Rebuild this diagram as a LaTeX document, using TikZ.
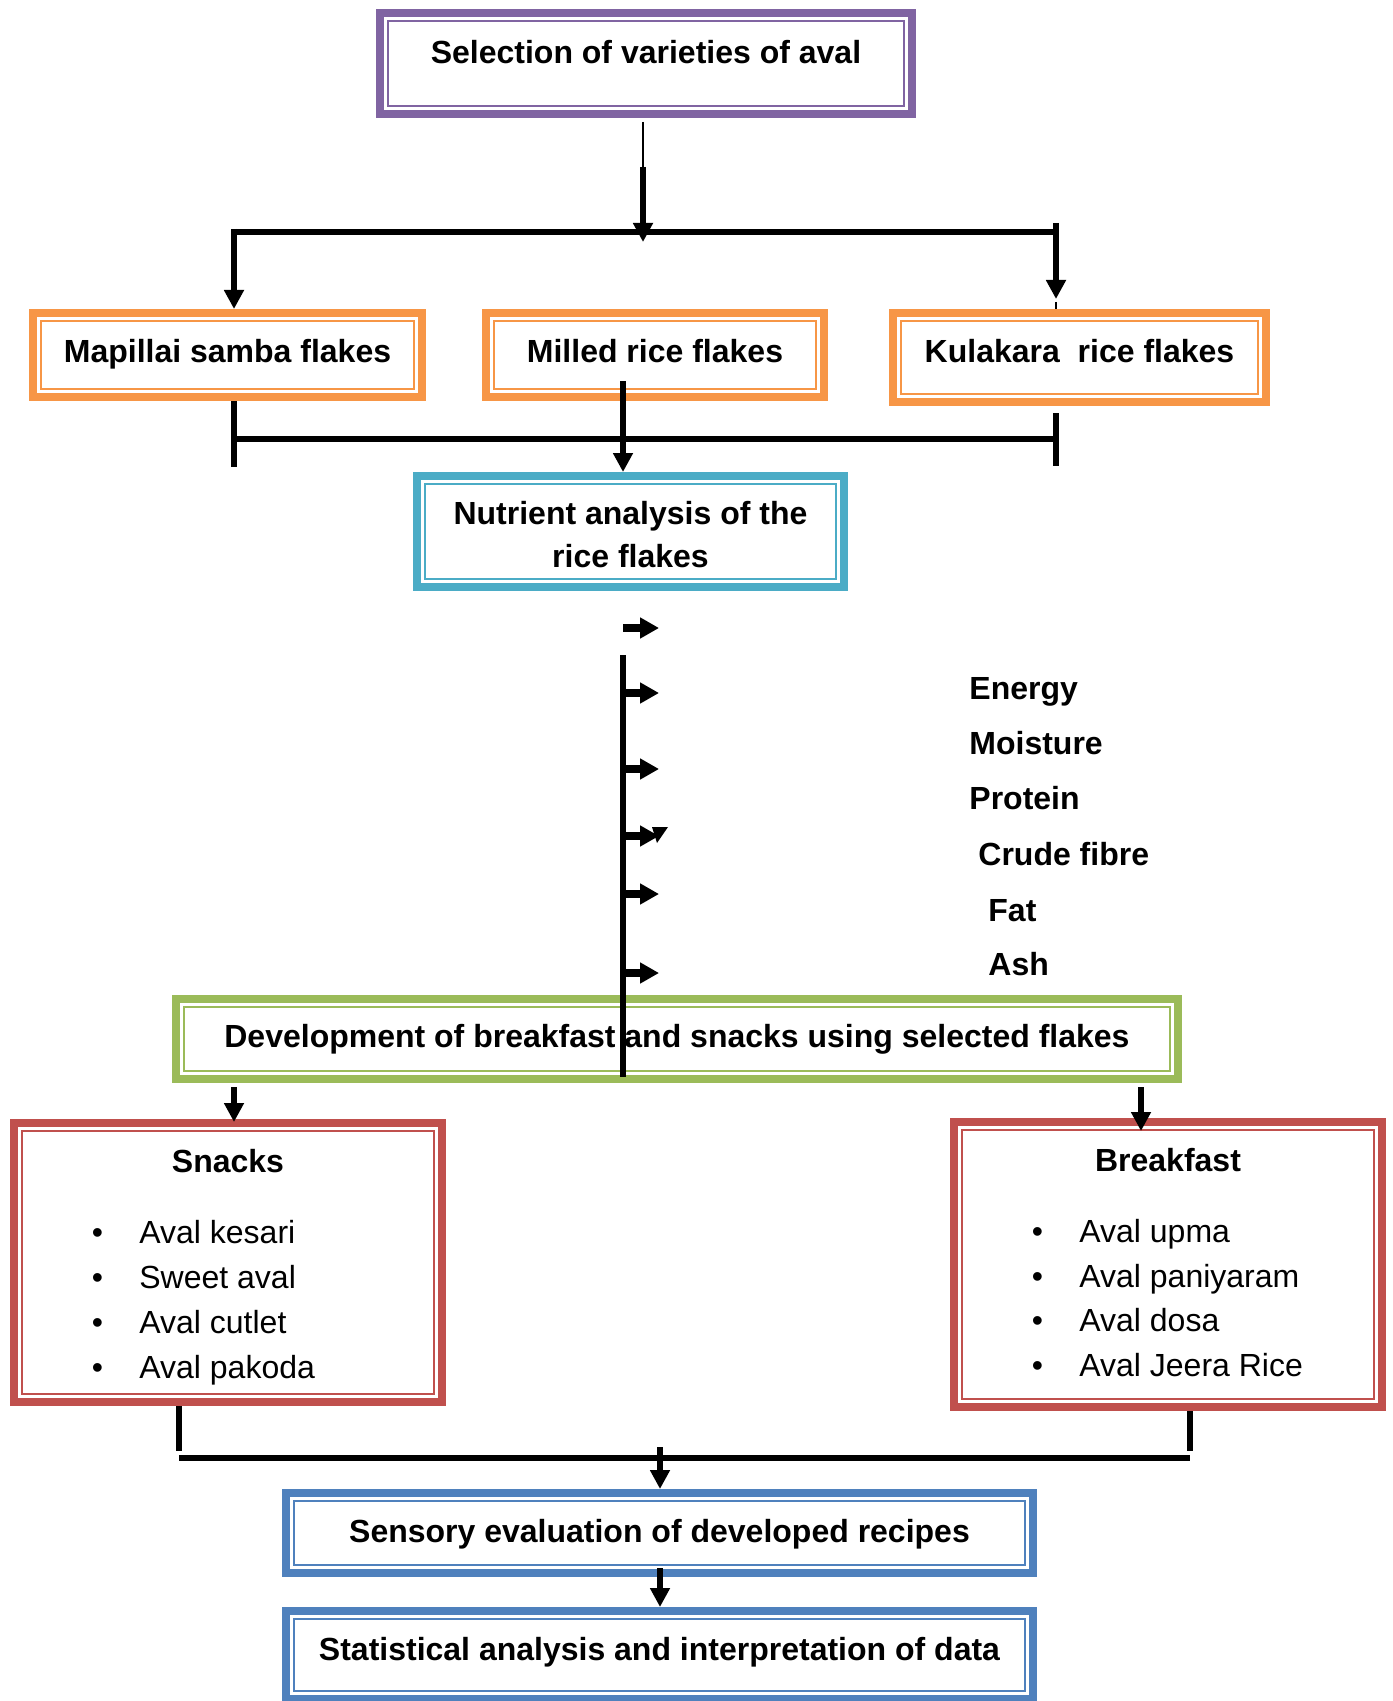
\documentclass[tikz,border=0pt]{standalone}
\usepackage{fontspec}
\setmainfont{Liberation Sans}
\usetikzlibrary{arrows.meta}
\definecolor{cpur}{HTML}{8064A2}
\definecolor{corg}{HTML}{F79646}
\definecolor{cteal}{HTML}{4BACC6}
\definecolor{cgrn}{HTML}{9BBB59}
\definecolor{cred}{HTML}{C0504D}
\definecolor{cblu}{HTML}{4F81BD}
\begin{document}
\begin{tikzpicture}[x=0.5pt,y=-0.5pt,
  fbox/.style={draw=#1, line width=4pt, fill=white, inner sep=0pt,
    font=\bfseries\fontsize{16pt}{19pt}\selectfont},
  tb/.style={text height=12pt, text depth=#1},
  lab/.style={font=\bfseries\fontsize{16pt}{19pt}\selectfont, inner sep=0pt, anchor=base west},
  itemtxt/.style={font=\fontsize{16pt}{19pt}\selectfont, inner sep=0pt, anchor=base west},
  bul/.style={font=\fontsize{16pt}{19pt}\selectfont, inner sep=0pt, anchor=base},
  con/.style={line width=3pt},
  arr/.style={line width=3pt, -{Triangle[length=9.5pt,width=9.5pt]}},
  narr/.style={line width=4pt, -{Triangle[length=9.5pt,width=10pt]}},
  thinln/.style={line width=0.8pt},
]
\useasboundingbox (0,0) rectangle (1392,1701);

% boxes
\node[fbox=cpur, tb=11.5pt, minimum width=266pt, minimum height=50.5pt] (sel) at (646,63.5) {Selection of varieties of aval};
\node[fbox=corg, tb=4pt, minimum width=194.5pt, minimum height=42pt] (map) at (227.5,355) {Mapillai samba flakes};
\node[fbox=corg, tb=4pt, minimum width=169pt, minimum height=42pt] (mil) at (655,355) {Milled rice flakes};
\node[fbox=corg, tb=6.5pt, minimum width=186.5pt, minimum height=44.5pt] (kul) at (1079.5,357.5) {Kulakara\ \ rice flakes};
\node[fbox=cteal, align=center, font=\bfseries\fontsize{16pt}{21.5pt}\selectfont, minimum width=213.5pt, minimum height=55.5pt] (nut) at (630.5,531.5) {\rule{0pt}{14.7pt}Nutrient analysis of the\\rice flakes};
\node[fbox=cgrn, tb=4pt, minimum width=501pt, minimum height=40pt] (dev) at (677,1039) {Development of breakfast and snacks using selected flakes};
\node[fbox=cred, minimum width=214pt, minimum height=139.5pt] (snk) at (228,1262.5) {};
\node[fbox=cred, minimum width=214pt, minimum height=142.5pt] (brk) at (1168,1264.5) {};
\node[fbox=cblu, tb=3pt, minimum width=373.5pt, minimum height=40pt] (sen) at (659.5,1533) {Sensory evaluation of developed recipes};
\node[fbox=cblu, tb=7pt, minimum width=373.5pt, minimum height=44pt] (sta) at (659.5,1655) {Statistical analysis and interpretation of data};

% inner thin borders
\foreach \n/\c in {sel/cpur,map/corg,mil/corg,kul/corg,nut/cteal,dev/cgrn,snk/cred,brk/cred,sen/cblu,sta/cblu}
  \draw[\c, line width=1.2pt] ([shift={(5.9pt,5.9pt)}]\n.south west) rectangle ([shift={(-5.9pt,-5.9pt)}]\n.north east);

% snacks list
\node[lab, anchor=base] (snkt) at (228,1172) {Snacks};
\node[bul] (snkb1) at (97.5,1243) {•};
\node[bul] (snkb2) at (97.5,1288) {•};
\node[bul] (snkb3) at (97.5,1333) {•};
\node[bul] (snkb4) at (97.5,1378) {•};
\node[itemtxt] (snk1) at (139,1243) {Aval kesari};
\node[itemtxt] (snk2) at (139,1288) {Sweet aval};
\node[itemtxt] (snk3) at (139,1333) {Aval cutlet};
\node[itemtxt] (snk4) at (139,1378) {Aval pakoda};

% breakfast list
\node[lab, anchor=base] (brkt) at (1168,1171) {Breakfast};
\node[bul] (brkb1) at (1037.5,1242) {•};
\node[bul] (brkb2) at (1037.5,1287) {•};
\node[bul] (brkb3) at (1037.5,1331) {•};
\node[bul] (brkb4) at (1037.5,1376) {•};
\node[itemtxt] (brk1) at (1079,1242) {Aval upma};
\node[itemtxt] (brk2) at (1079,1287) {Aval paniyaram};
\node[itemtxt] (brk3) at (1079,1331) {Aval dosa};
\node[itemtxt] (brk4) at (1079,1376) {Aval Jeera Rice};

% nutrient labels
\node[lab] (en) at (969,699) {Energy};
\node[lab] (mo) at (969,754) {Moisture};
\node[lab] (pr) at (969,809) {Protein};
\node[lab] (cf) at (978,865) {Crude fibre};
\node[lab] (fa) at (988,921) {Fat};
\node[lab] (as) at (988,975) {Ash};

% top connectors
\coordinate (s0) at (643,122);
\coordinate (s1) at (643,167);
\coordinate (s2) at (643,242);
\coordinate (jl) at (234,232);
\coordinate (jr) at (1056,232);
\draw[thinln] (s0) -- (s1);
\draw[con] (jl) -- (jr);
\draw[arr] (s1) -- (s2);
\draw[arr] (234,229) -- (jl |- map.north);
\draw[arr] (1056,223) -- (1056,299);
\coordinate (jrt) at (1056,302);
\draw[line width=1.2pt] (jrt) -- (jrt |- kul.north);

% second level connectors
\coordinate (kl) at (234,439);
\coordinate (kr) at (1056,439);
\draw[con] (kl |- map.south) -- (234,467);
\draw[con] (kl) -- (kr);
\draw[con] (1056,413) -- (1056,466);
\coordinate (mtop) at (623,381);
\draw[arr] (mtop) -- (mtop |- nut.north);

% nutrient branch
\coordinate (n0) at (623,628);
\coordinate (n1) at (659,628);
\draw[narr] (n0) -- (n1);
\coordinate (v0) at (623,655);
\coordinate (v1) at (623,1077);
\draw[con] (v0) -- (v1);
\foreach \y in {693,769,836,894,973}
  \draw[narr] (623,\y) -- (659,\y);
\fill (652,827) -- (668,827) -- (657,843) -- cycle;

% development to snacks / breakfast
\coordinate (d1) at (234,1087);
\coordinate (d2) at (1141,1087);
\draw[arr] (d1) -- (234,1122);
\draw[arr] (d2) -- (1141,1131);

% bottom connectors
\coordinate (bl) at (179,1458);
\coordinate (br) at (1190,1458);
\draw[con] (bl |- snk.south) -- (179,1451);
\draw[con] (br |- brk.south) -- (1190,1451);
\draw[con] (bl) -- (br);
\coordinate (e0) at (660,1447);
\draw[arr] (e0) -- (e0 |- sen.north);
\coordinate (f0) at (660,1568);
\draw[arr] (f0) -- (f0 |- sta.north);
\end{tikzpicture}
\end{document}
